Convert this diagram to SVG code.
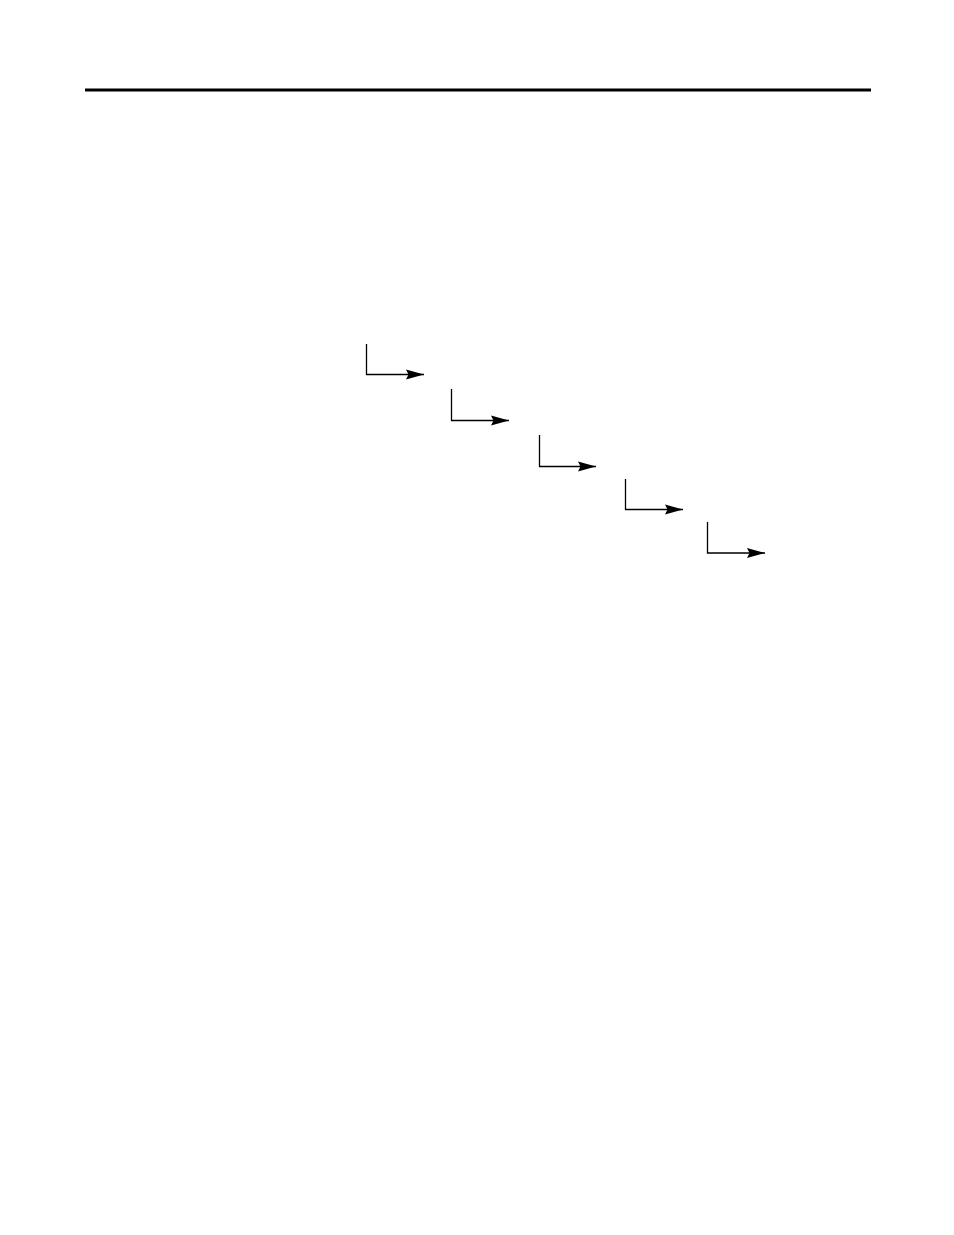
<svg xmlns="http://www.w3.org/2000/svg" width="954" height="1235" viewBox="0 0 954 1235">
<style>
.c{fill:none;stroke:#000;stroke-width:1.3}
</style>
<defs>
<marker id="ah" markerUnits="userSpaceOnUse" markerWidth="20" markerHeight="12" refX="18" refY="5.5" orient="auto">
<path d="M0,0.5 L18,5.5 L0,10.5 L2.5,5.5 Z" fill="#000"/>
</marker>
</defs>
<rect width="954" height="1235" fill="#fff"/>
<g id="rule"><line x1="85" y1="90" x2="871" y2="90" stroke="#000" stroke-width="3"/></g>
<g id="connectors">
<path class="c" d="M366.5,344 V374.5 H424" marker-end="url(#ah)"/>
<path class="c" d="M451.5,389 V420.5 H509" marker-end="url(#ah)"/>
<path class="c" d="M539.5,435 V466.5 H596" marker-end="url(#ah)"/>
<path class="c" d="M625.5,479 V509.5 H683" marker-end="url(#ah)"/>
<path class="c" d="M707.5,522 V553 H765" marker-end="url(#ah)"/>
</g>
</svg>
